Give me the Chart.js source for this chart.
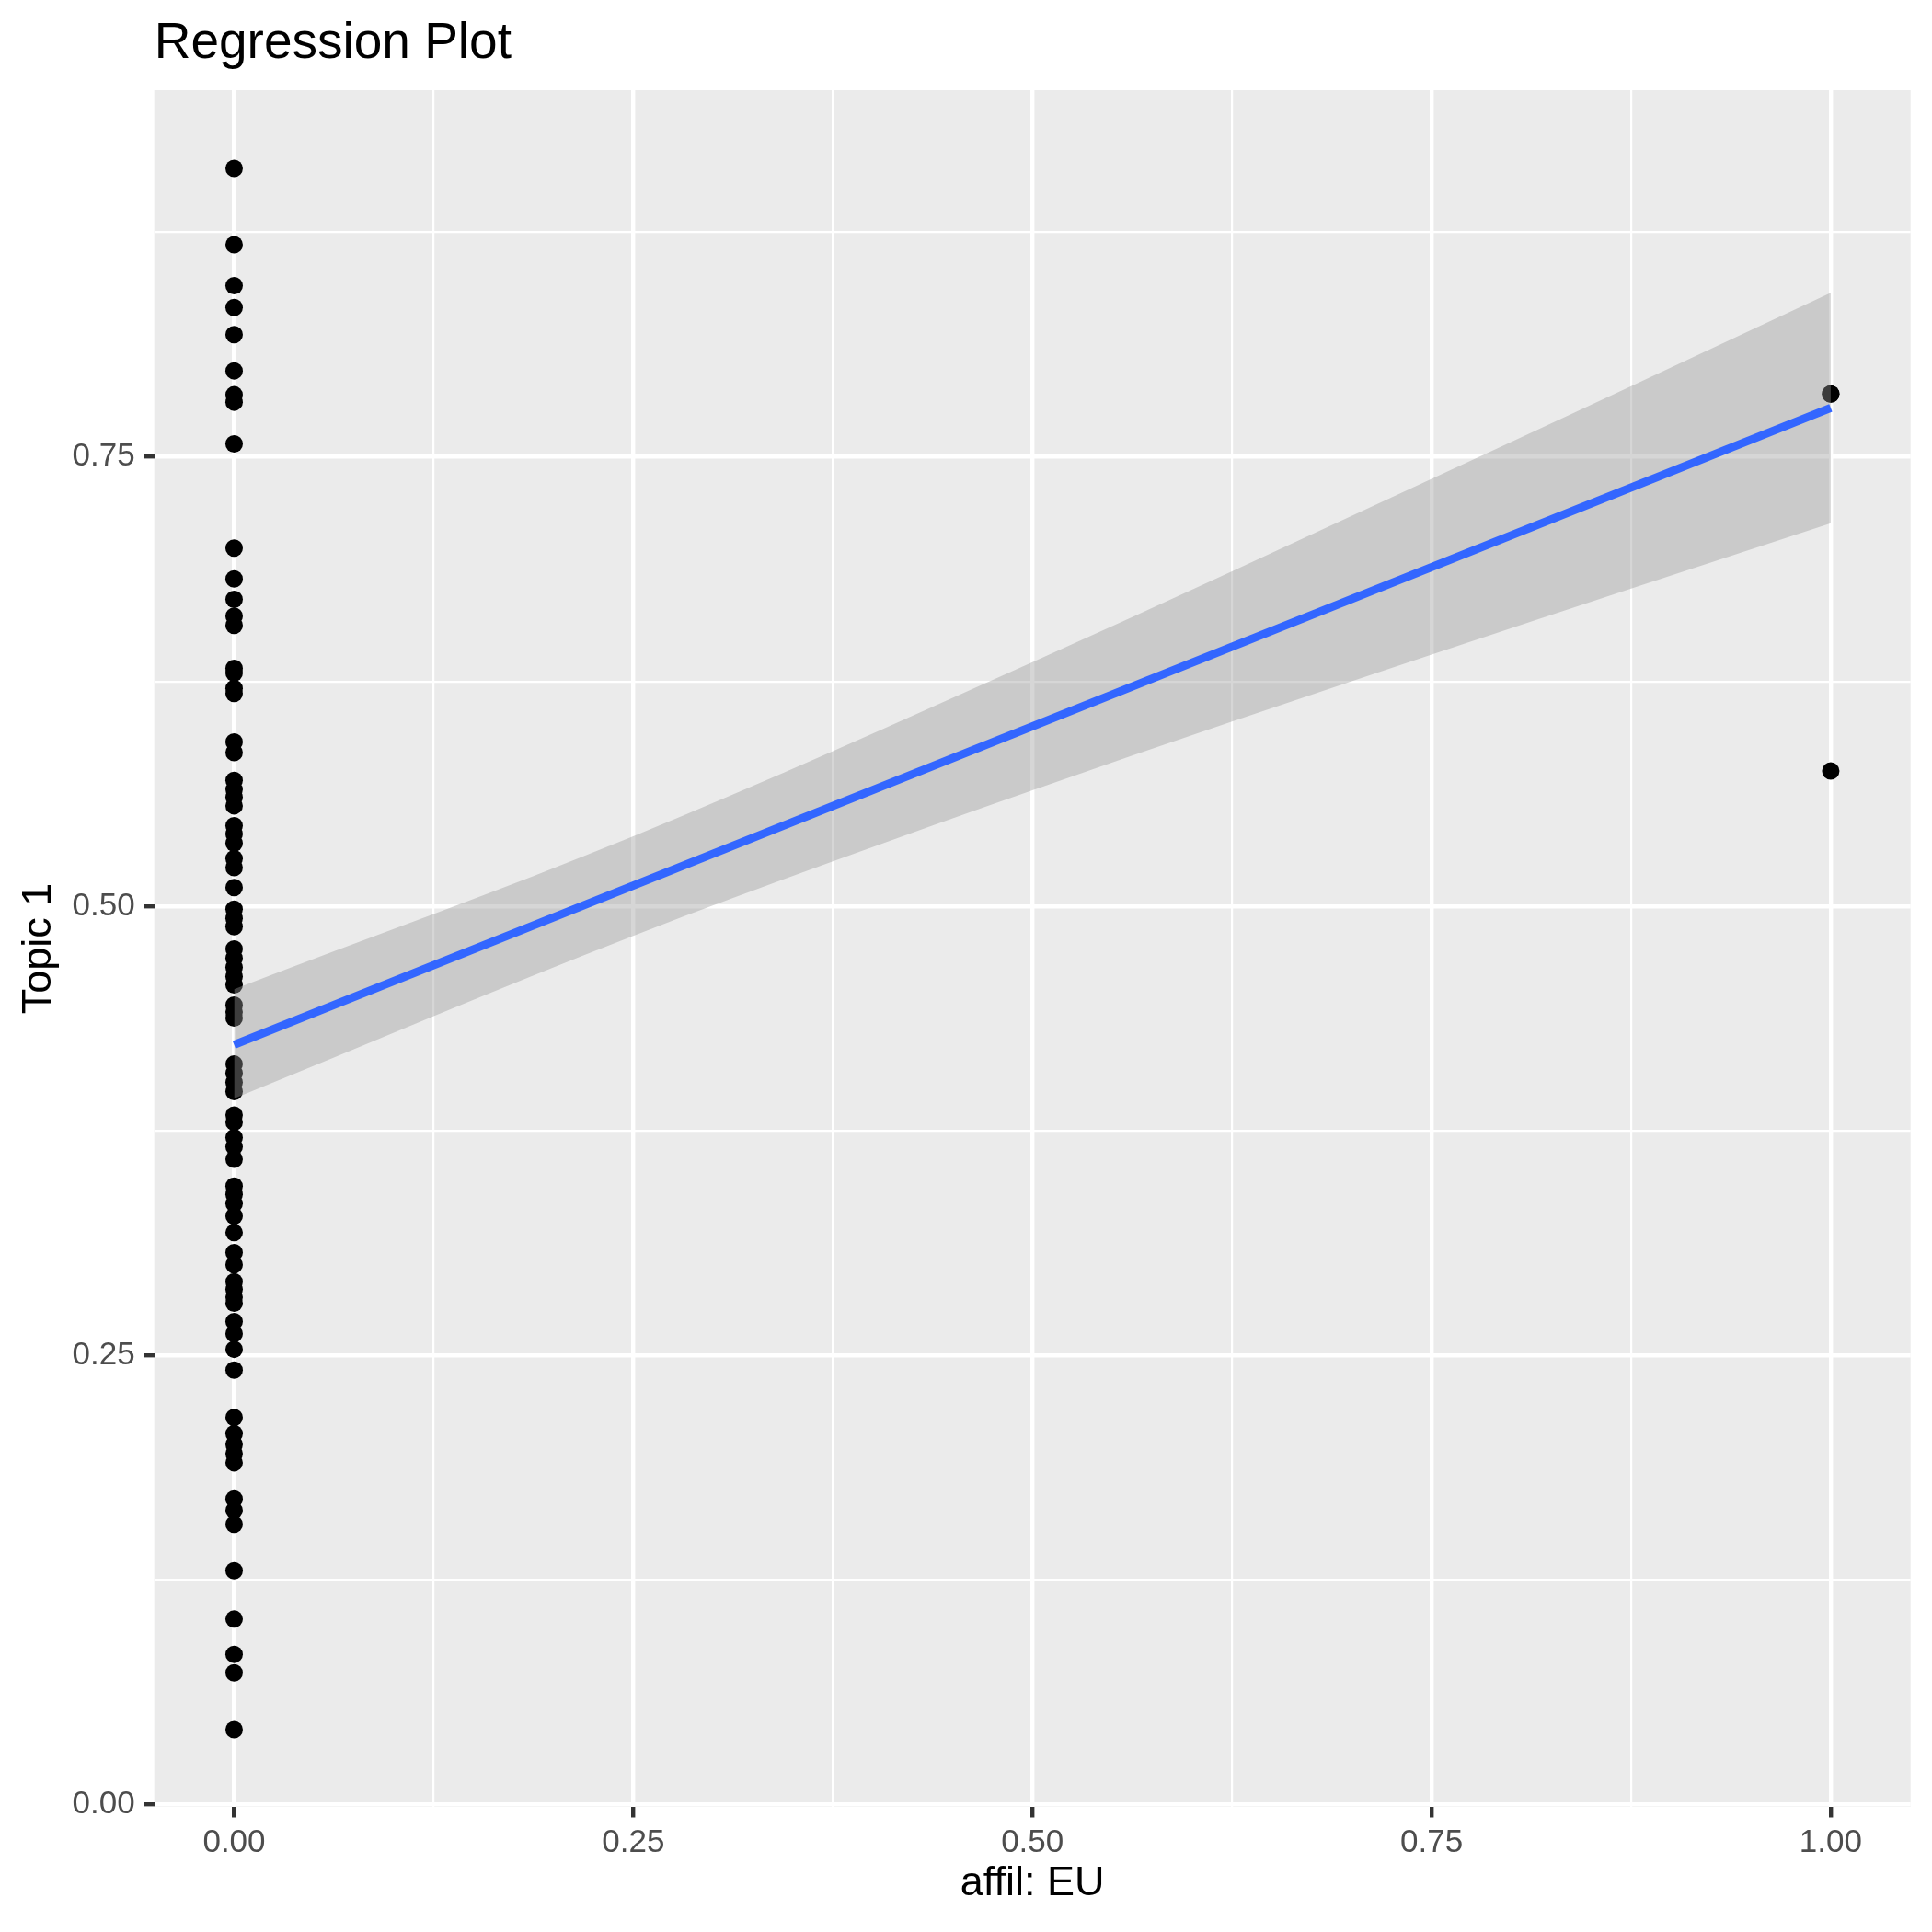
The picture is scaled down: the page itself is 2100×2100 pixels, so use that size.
<!DOCTYPE html>
<html>
<head>
<meta charset="utf-8">
<script src="https://cdn.jsdelivr.net/npm/chart.js@4.4.1/dist/chart.umd.min.js"></script>
<style>
  html, body { margin: 0; padding: 0; background: #ffffff; }
  #wrap { width: 2100px; height: 2100px; position: relative; }
</style>
</head>
<body>
<div id="wrap"><canvas id="c" width="2100" height="2100"></canvas></div>
<script>
// ---------------- data ----------------
const titleText = 'Regression Plot';
const xAxisTitle = 'affil: EU';
const yAxisTitle = 'Topic 1';

const xTickValues = [0, 0.25, 0.5, 0.75, 1];
const xTickLabels = ['0.00', '0.25', '0.50', '0.75', '1.00'];
const xMinorValues = [0.125, 0.375, 0.625, 0.875];
const yTickValues = [0, 0.25, 0.5, 0.75];
const yTickLabels = ['0.00', '0.25', '0.50', '0.75'];
const yMinorValues = [0.125, 0.375, 0.625, 0.875];

const xRange = [-0.05, 1.05];
const yRange = [-0.0012, 0.954];

// group x positions (affil: EU = 0 / 1)
const groupX = [0, 1];

// Topic 1 values of observations with affil: EU = 0
const pointsAtZero = [
  0.9105, 0.8680, 0.8452, 0.8331, 0.8180, 0.7978, 0.7845, 0.7804, 0.7572, 0.6992, 0.6821, 0.6707,
  0.6613, 0.6562, 0.6323, 0.6297, 0.6212, 0.6183, 0.5913, 0.5854,
  0.5700, 0.5649, 0.5606, 0.5558, 0.5447, 0.5401, 0.5350, 0.5265, 0.5214, 0.5103,
  0.4983, 0.4932, 0.4886, 0.4761, 0.4710, 0.4659, 0.4608, 0.4562,
  0.4449, 0.4411, 0.4377, 0.4121, 0.4070, 0.4019, 0.3968, 0.3837, 0.3797, 0.3712, 0.3661, 0.3592,
  0.3442, 0.3396, 0.3345, 0.3276, 0.3183, 0.3072, 0.3004, 0.2910, 0.2867, 0.2824, 0.2790,
  0.2688, 0.2620, 0.2534, 0.2418,
  0.2155, 0.2065, 0.2005, 0.1954, 0.1903, 0.1702, 0.1638, 0.1561, 0.1302, 0.1033, 0.0837, 0.0734, 0.0418
];
// Topic 1 values of observations with affil: EU = 1
const pointsAtOne = [0.7849, 0.7849, 0.5752];

// fitted regression line and its confidence band
const fitX = [0, 1];
const fitY = [0.4229, 0.7772];
const bandX = [0, 0.25, 0.5, 0.75, 1];
const bandUpper = [0.4538, 0.5388, 0.6357, 0.7377, 0.8413];
const bandLower = [0.3930, 0.4835, 0.5644, 0.6399, 0.7130];

// ---------------- chart ----------------
const FONT = "'Liberation Sans', Arial, Helvetica, sans-serif";
Chart.defaults.font.family = FONT;

const xMinorSet = new Set(xMinorValues);
const yMinorSet = new Set(yMinorValues);

const scatterData = [
  ...pointsAtZero.map(v => ({ x: groupX[0], y: v })),
  ...pointsAtOne.map(v => ({ x: groupX[1], y: v }))
];
const fitData = fitX.map((x, i) => ({ x, y: fitY[i] }));
const upperData = bandX.map((x, i) => ({ x, y: bandUpper[i] }));
const lowerData = bandX.map((x, i) => ({ x, y: bandLower[i] }));

const panelBg = {
  id: 'panelBg',
  beforeDraw(chart) {
    const { ctx, chartArea: a } = chart;
    ctx.save();
    ctx.fillStyle = '#ffffff';
    ctx.fillRect(0, 0, chart.width, chart.height);
    ctx.fillStyle = '#EBEBEB';
    ctx.fillRect(a.left, a.top, a.right - a.left, a.bottom - a.top);
    ctx.restore();
  }
};

function buildTicks(majors, minors) {
  return [...majors, ...minors].sort((a, b) => a - b).map(v => ({ value: v }));
}

new Chart(document.getElementById('c'), {
  type: 'scatter',
  data: {
    datasets: [
      {
        type: 'line',
        label: 'fit',
        data: fitData,
        borderColor: '#3366FF',
        borderWidth: 8.9,
        borderCapStyle: 'butt',
        pointRadius: 0,
        fill: false,
        order: 1
      },
      {
        type: 'line',
        label: 'upper',
        data: upperData,
        borderWidth: 0,
        borderColor: 'rgba(0,0,0,0)',
        pointRadius: 0,
        cubicInterpolationMode: 'monotone',
        fill: '+1',
        backgroundColor: 'rgba(153,153,153,0.4)',
        order: 2
      },
      {
        type: 'line',
        label: 'lower',
        data: lowerData,
        borderWidth: 0,
        borderColor: 'rgba(0,0,0,0)',
        pointRadius: 0,
        cubicInterpolationMode: 'monotone',
        fill: false,
        order: 2
      },
      {
        type: 'scatter',
        label: 'points',
        data: scatterData,
        pointRadius: 9.5,
        pointBackgroundColor: '#000000',
        pointBorderWidth: 0,
        borderWidth: 0,
        order: 3
      }
    ]
  },
  options: {
    responsive: false,
    animation: false,
    events: [],
    layout: { padding: { left: 0, right: 23.3, top: 0, bottom: 0 } },
    plugins: {
      legend: { display: false },
      tooltip: { enabled: false },
      title: {
        display: true,
        text: titleText,
        align: 'start',
        fullSize: false,
        color: '#000000',
        font: { family: FONT, size: 55, weight: 'normal', lineHeight: 1.2 },
        padding: { top: 14.5, bottom: 17.5 }
      }
    },
    scales: {
      x: {
        type: 'linear',
        position: 'bottom',
        min: xRange[0],
        max: xRange[1],
        afterBuildTicks: s => { s.ticks = buildTicks(xTickValues, xMinorValues); },
        afterFit: s => { s.height = 136; },
        border: { display: false },
        grid: {
          color: '#ffffff',
          lineWidth: c => (c.tick && xMinorSet.has(c.tick.value)) ? 2.2 : 4.4,
          tickColor: c => (c.tick && xMinorSet.has(c.tick.value)) ? 'rgba(0,0,0,0)' : '#333333',
          tickWidth: c => (c.tick && xMinorSet.has(c.tick.value)) ? 0 : 4.4,
          tickLength: 11.5,
          drawTicks: true
        },
        ticks: {
          autoSkip: false,
          maxRotation: 0,
          padding: 7,
          color: '#4D4D4D',
          font: { family: FONT, size: 35 },
          callback: (v) => {
            const i = xTickValues.indexOf(v);
            return i >= 0 ? xTickLabels[i] : '';
          }
        },
        title: {
          display: true,
          text: xAxisTitle,
          color: '#000000',
          font: { family: FONT, size: 45, lineHeight: 1.2 },
          padding: { top: 0, bottom: 25 }
        }
      },
      y: {
        type: 'linear',
        position: 'left',
        min: yRange[0],
        max: yRange[1],
        afterBuildTicks: s => { s.ticks = buildTicks(yTickValues, yMinorValues); },
        afterFit: s => { s.width = 167.7; },
        border: { display: false },
        grid: {
          color: '#ffffff',
          lineWidth: c => (c.tick && yMinorSet.has(c.tick.value)) ? 2.2 : 4.4,
          tickColor: c => (c.tick && yMinorSet.has(c.tick.value)) ? 'rgba(0,0,0,0)' : '#333333',
          tickWidth: c => (c.tick && yMinorSet.has(c.tick.value)) ? 0 : 4.4,
          tickLength: 11.5,
          drawTicks: true
        },
        ticks: {
          autoSkip: false,
          padding: 9.5,
          color: '#4D4D4D',
          font: { family: FONT, size: 35 },
          callback: (v) => {
            const i = yTickValues.indexOf(v);
            return i >= 0 ? yTickLabels[i] : '';
          }
        },
        title: {
          display: true,
          text: yAxisTitle,
          color: '#000000',
          font: { family: FONT, size: 45, lineHeight: 1.2 },
          padding: { top: 16, bottom: 0 }
        }
      }
    }
  },
  plugins: [panelBg]
});
</script>
</body>
</html>
